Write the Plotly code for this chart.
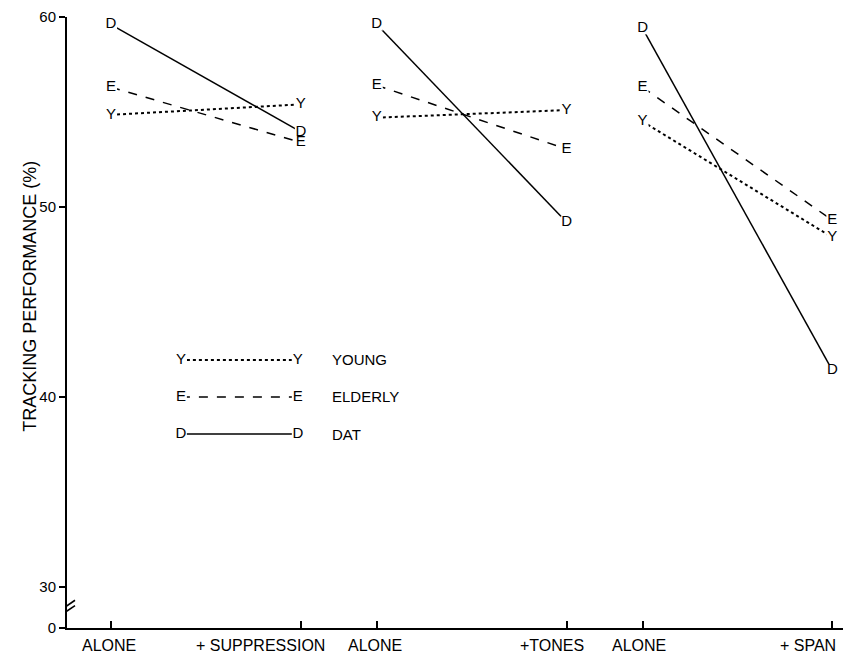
import plotly.graph_objects as go

# ---------------- data ----------------
conditions = ["ALONE", "+ SUPPRESSION", "ALONE", "+TONES", "ALONE", "+ SPAN"]
cond_x = [0, 2.5, 3.5, 6, 7, 9.5]          # category positions (three paired panels)
groups = ["YOUNG", "ELDERLY", "DAT"]
letters = ["Y", "E", "D"]
dashes = ["dot", "dash", "solid"]
widths = [2.0, 1.5, 1.5]
young = [54.85, 55.4, 54.7, 55.1, 54.5, 48.4]
elderly = [56.3, 53.4, 56.4, 53.05, 56.3, 49.3]
dat = [59.6, 53.95, 59.6, 49.2, 59.4, 41.4]
series = [young, elderly, dat]

y_ticks = [30, 40, 50, 60]
y_zero_pos = 27.84          # where the broken axis shows "0"

FONT = "Liberation Sans, Arial, Helvetica, sans-serif"

def with_gaps(vals):
    out = []
    for i in range(0, len(vals), 2):
        out += [vals[i], vals[i + 1], None]
    return out

fig = go.Figure()

# lines
for name, vals, dash, w in zip(groups, series, dashes, widths):
    fig.add_trace(go.Scatter(
        x=with_gaps(cond_x), y=with_gaps(vals), mode="lines", name=name,
        line=dict(color="black", width=w, dash=dash), showlegend=False,
        hoverinfo="skip", cliponaxis=False))

# legend sample lines
leg_x = [0.92, 2.46]
leg_y = [41.95, 40.0, 38.05]
for name, ly, dash, w in zip(groups, leg_y, dashes, widths):
    fig.add_trace(go.Scatter(
        x=leg_x, y=[ly, ly], mode="lines",
        line=dict(color="black", width=w, dash=dash), showlegend=False,
        hoverinfo="skip"))

# white masks under the letters
mask_x, mask_y = [], []
for vals in series:
    mask_x += cond_x
    mask_y += vals
for ly in leg_y:
    mask_x += leg_x
    mask_y += [ly, ly]
fig.add_trace(go.Scatter(
    x=mask_x, y=mask_y, mode="markers",
    marker=dict(symbol="square", size=12, color="white", line=dict(width=0)),
    showlegend=False, hoverinfo="skip", cliponaxis=False))

# letters
for letter, vals, ly in zip(letters, series, leg_y):
    fig.add_trace(go.Scatter(
        x=cond_x + leg_x, y=vals + [ly, ly], mode="text",
        text=[letter] * (len(cond_x) + 2), textposition="middle center",
        textfont=dict(family=FONT, size=15, color="black"),
        showlegend=False, hoverinfo="skip", cliponaxis=False))

# legend labels
for name, ly in zip(groups, leg_y):
    fig.add_annotation(x=2.88, y=ly, xref="x", yref="y", text=name,
                       showarrow=False, xanchor="left",
                       font=dict(family=FONT, size=15, color="black"))

# x category labels
label_shift = [-2, -40, -2, -15, -4, -24]
for cx, lab, sh in zip(cond_x, conditions, label_shift):
    fig.add_annotation(x=cx, y=0, xref="x", yref="paper", text=lab,
                       showarrow=False, xanchor="center", yanchor="top",
                       xshift=sh, yshift=-7,
                       font=dict(family=FONT, size=16, color="black"))

# y title
fig.add_annotation(x=-0.047, y=0.543, xref="paper", yref="paper",
                   text="TRACKING PERFORMANCE (%)", textangle=-90,
                   showarrow=False, xanchor="center", yanchor="middle",
                   font=dict(family=FONT, size=18, color="black"))

# axis break marks
for off in [0.0, 0.28]:
    fig.add_shape(type="line", xref="x", yref="y", xsizemode="pixel",
                  xanchor=-0.58, x0=-8, x1=8,
                  y0=28.72 - off, y1=29.3 - off,
                  line=dict(color="black", width=1.6))

fig.update_layout(
    width=843, height=663,
    margin=dict(l=67, r=0, t=17, b=35, autoexpand=False),
    paper_bgcolor="white", plot_bgcolor="white",
    font=dict(family=FONT, color="black"),
    xaxis=dict(range=[-0.58, 9.64], showgrid=False, zeroline=False,
               showline=True, linecolor="black", linewidth=2,
               tickvals=cond_x, ticktext=[""] * len(cond_x),
               ticks="inside", ticklen=7, tickwidth=1.5, tickcolor="black",
               showticklabels=False, fixedrange=True, automargin=False),
    yaxis=dict(range=[y_zero_pos, 60], showgrid=False, zeroline=False,
               showline=True, linecolor="black", linewidth=2,
               tickvals=[y_zero_pos] + y_ticks,
               ticktext=["0"] + [str(t) for t in y_ticks],
               ticks="outside", ticklen=6, tickwidth=1.5, tickcolor="black",
               tickfont=dict(family=FONT, size=15, color="black"),
               fixedrange=True, automargin=False),
)

fig.write_html("out.html", config={"displayModeBar": False},
               post_script="document.body.style.margin='0';document.body.style.overflow='hidden';")
